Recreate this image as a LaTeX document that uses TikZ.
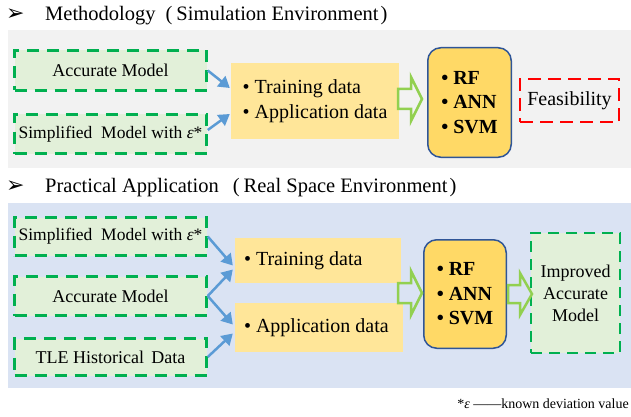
\documentclass[tikz,border=0pt]{standalone}
\usepackage{fontspec}
\setmainfont{Liberation Serif}
\newfontfamily\symfont{DejaVu Sans}
\usetikzlibrary{arrows.meta,calc}

\definecolor{panelgray}{HTML}{F2F2F2}
\definecolor{panelblue}{HTML}{DAE3F3}
\definecolor{srcfill}{HTML}{E2F0D9}
\definecolor{srcline}{HTML}{00B050}
\definecolor{datafill}{HTML}{FFE699}
\definecolor{learnfill}{HTML}{FFD966}
\definecolor{learnline}{HTML}{2F5597}
\definecolor{feedblue}{HTML}{5B9BD5}
\definecolor{hollowgreen}{HTML}{92D050}
\definecolor{alertred}{HTML}{FF0000}

% block arrow: start x, head x, tip x, centre y, fill colour, shaft half height, head half height
\newcommand\blockarrow[7]{%
  \draw[hollow, fill=#5] (#1,#4-#6) -- (#2,#4-#6) -- (#2,#4-#7) -- (#3,#4)
    -- (#2,#4+#7) -- (#2,#4+#6) -- (#1,#4+#6) -- cycle;}

\begin{document}
\begin{tikzpicture}[x=1pt,y=-1pt,
  heading/.style={anchor=base west, inner sep=0pt, font=\fontsize{20.5}{24}\selectfont},
  marker/.style={anchor=base west, inner sep=0pt, font=\symfont\bfseries\fontsize{22}{22}\selectfont},
  srcbox/.style={draw=srcline, fill=srcfill, line width=2.5pt, dash pattern=on 12pt off 8pt,
    minimum width=192pt, inner sep=0pt, font=\fontsize{18}{22}\selectfont},
  databox/.style={fill=datafill, inner sep=0pt, align=left, font=\fontsize{20}{25}\selectfont},
  datatext/.style={anchor=west, inner sep=0pt, font=\fontsize{20}{25}\selectfont},
  learner/.style={draw=learnline, fill=learnfill, line width=1.5pt, rounded corners=13pt,
    inner sep=0pt, align=left, font=\bfseries\fontsize{20}{24.5}\selectfont},
  alertbox/.style={draw=alertred, line width=2.2pt, dash pattern=on 13pt off 7pt,
    inner sep=0pt, font=\fontsize{20}{24}\selectfont},
  feed/.style={draw=feedblue, line width=2.5pt, -{Triangle[length=11pt,width=13pt]}},
  hollow/.style={draw=hollowgreen, line width=2.5pt, line join=miter}
]
\useasboundingbox (0,0) rectangle (631,417);
\fill[white] (0,0) rectangle (631,417);

% ---------- simulation environment ----------
\node[marker] (mk1) at (6,21) {➢};
\node[heading] (head1) at (45,21)
  {Methodology\hspace{10pt}(\hspace{4pt}Simulation Environment\hspace{2pt})};
\fill[panelgray] (8,30) rectangle (631,168);

\node[srcbox, minimum height=40pt] (am1) at (110.5,70.5) {Accurate Model};
\node[srcbox, minimum height=39pt, font=\fontsize{17.5}{22}\selectfont] (sm1) at (110.5,134)
  {Simplified\hspace{0.5em}Model with \textit{ε}*};

\node[databox, minimum width=168pt, minimum height=76pt] (td1) at (315,101)
  {• Training data\\• Application data};

\node[learner, minimum width=83.5pt, minimum height=109.5pt] (ml1) at (469.5,102.5)
  {• RF\\• ANN\\• SVM};

\node[alertbox, minimum width=99pt, minimum height=43pt] (fs) at (569.5,100.5) {Feasibility};

\draw[feed] (am1.east) -- ($(td1.west)+(-1,-13)$);
\draw[feed] ($(sm1.east)+(0,-4)$) -- ($(td1.west)+(-1,13)$);
\blockarrow{398}{411}{422}{99}{panelgray}{10}{22}

% ---------- real space environment ----------
\node[marker] (mk2) at (6,192) {➢};
\node[heading] (head2) at (45,192)
  {Practical Application\hspace{14pt}(\hspace{4pt}Real Space Environment\hspace{2pt})};
\fill[panelblue] (8,203) rectangle (631,388);

\node[srcbox, minimum height=38pt, font=\fontsize{17.5}{22}\selectfont] (sm2) at (110.5,236.5)
  {Simplified\hspace{0.5em}Model with \textit{ε}*};
\node[srcbox, minimum height=39pt] (am2) at (110.5,296) {Accurate Model};
\node[srcbox, minimum height=37pt] (tle) at (110.5,357) {TLE Historical\hspace{0.4em}Data};

\node[databox, minimum width=166pt, minimum height=45pt] (tr2) at (318,260.5) {};
\node[datatext] (tr2t) at ($(tr2.west)+(9,0)$) {• Training data};
\node[databox, minimum width=168pt, minimum height=49pt] (ap2) at (319,327.5) {};
\node[datatext] (ap2t) at ($(ap2.west)+(9,0)$) {• Application data};

\node[learner, minimum width=82.5pt, minimum height=108.5pt] (ml2) at (465,294)
  {• RF\\• ANN\\• SVM};

\node[srcbox, minimum width=89pt, minimum height=120pt, align=center,
  dash pattern=on 11pt off 7pt] (im) at (575.5,293) {Improved\\Accurate\\Model};

\draw[feed] (sm2.east) -- ($(tr2.west)+(-2,5)$);
\draw[feed] (am2.east) -- ($(tr2.west)+(-2,9)$);
\draw[feed] (am2.east) -- ($(ap2.west)+(-2,-3)$);
\draw[feed] (tle.east) -- ($(ap2.west)+(-2,6)$);
\blockarrow{398}{411}{422}{293}{panelblue}{10}{22}
\blockarrow{508}{520}{532}{294}{panelblue}{9}{21}

% ---------- footnote ----------
\node[anchor=base east, inner sep=0pt, font=\fontsize{14}{14}\selectfont] (note) at (629,408)
  {*\textit{ε} ——known deviation value};
\end{tikzpicture}
\end{document}
